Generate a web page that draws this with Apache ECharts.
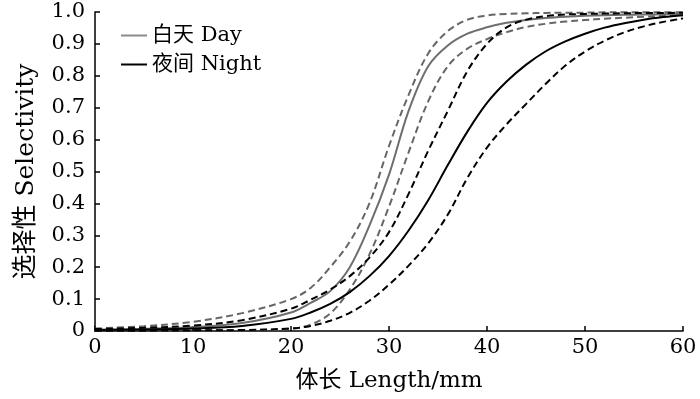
<!DOCTYPE html>
<html>
<head>
<meta charset="utf-8">
<script src="https://cdn.jsdelivr.net/npm/echarts@6/dist/echarts.min.js"></script>
<style>
  html, body { margin: 0; padding: 0; background: #fff; }
  #chart { width: 700px; height: 399px; }
</style>
</head>
<body>
<div id="chart"></div>
<script>
// 体长 (mm)
var lengths = [0, 5, 10, 15, 20, 22, 24, 26, 28, 30, 32, 34, 36, 38, 40, 42, 44, 46, 48, 50, 52, 54, 56, 58, 60];

// 白天 选择性曲线及上下置信限
var daySel = [0.004, 0.007, 0.012, 0.025, 0.058, 0.088, 0.125, 0.2, 0.33, 0.49, 0.69, 0.83, 0.895, 0.932, 0.952, 0.966, 0.975, 0.981, 0.985, 0.988, 0.99, 0.991, 0.992, 0.993, 0.994];
var dayHi  = [0.008, 0.015, 0.029, 0.056, 0.1, 0.135, 0.2, 0.28, 0.4, 0.58, 0.74, 0.87, 0.94, 0.976, 0.989, 0.994, 0.996, 0.997, 0.998, 0.998, 0.999, 0.999, 0.999, 0.999, 0.999];
var dayLo  = [0.0005, 0.001, 0.002, 0.003, 0.007, 0.02, 0.055, 0.13, 0.24, 0.39, 0.56, 0.72, 0.83, 0.885, 0.915, 0.937, 0.953, 0.963, 0.97, 0.975, 0.979, 0.982, 0.985, 0.988, 0.99];

// 夜间 选择性曲线及上下置信限
var nightSel = [0.003, 0.005, 0.008, 0.016, 0.038, 0.058, 0.085, 0.122, 0.172, 0.235, 0.315, 0.41, 0.52, 0.625, 0.715, 0.782, 0.835, 0.877, 0.908, 0.932, 0.951, 0.965, 0.976, 0.984, 0.99];
var nightHi  = [0.006, 0.01, 0.017, 0.034, 0.07, 0.098, 0.13, 0.172, 0.23, 0.31, 0.43, 0.565, 0.69, 0.815, 0.9, 0.952, 0.976, 0.987, 0.992, 0.994, 0.995, 0.996, 0.997, 0.997, 0.998];
var nightLo  = [0.0005, 0.001, 0.002, 0.003, 0.008, 0.016, 0.032, 0.057, 0.095, 0.145, 0.205, 0.275, 0.365, 0.48, 0.575, 0.648, 0.712, 0.775, 0.832, 0.876, 0.91, 0.936, 0.955, 0.969, 0.98];

var FONT = "'DejaVu Serif', 'Noto Sans CJK SC', serif";

function pairs(vals) {
  return lengths.map(function (x, i) { return [x, vals[i]]; });
}

function curve(name, vals, color, dashed) {
  return {
    name: name,
    type: 'line',
    data: pairs(vals),
    smooth: 0.35,
    symbol: 'none',
    silent: true,
    lineStyle: {
      color: color,
      width: 2,
      type: dashed ? [7, 4] : 'solid'
    },
    itemStyle: { color: color }
  };
}

var chart = echarts.init(document.getElementById('chart'));

var option = {
  animation: false,
  grid: { left: 95, right: 17, top: 12, bottom: 68 },
  legend: {
    data: [
      { name: '白天 Day', icon: 'rect', itemStyle: { color: '#8a8a8a' } },
      { name: '夜间 Night', icon: 'rect', itemStyle: { color: '#000' } }
    ],
    orient: 'vertical',
    left: 116,
    top: 20,
    itemWidth: 26,
    itemHeight: 2,
    itemGap: 8,
    textStyle: { fontFamily: FONT, fontSize: 21, color: '#000', lineHeight: 20 }
  },
  xAxis: {
    type: 'value',
    min: 0,
    max: 60,
    interval: 10,
    name: '体长 Length/mm',
    nameLocation: 'middle',
    nameGap: 39,
    nameTextStyle: { fontFamily: FONT, fontSize: 23, color: '#000' },
    axisLine: { lineStyle: { color: '#000', width: 1.5 } },
    axisTick: { inside: true, length: 5, lineStyle: { color: '#000', width: 1.5 } },
    axisLabel: { fontFamily: FONT, fontSize: 21, color: '#000', margin: 6 },
    splitLine: { show: false }
  },
  yAxis: {
    type: 'value',
    min: 0,
    max: 1,
    interval: 0.1,
    name: '选择性 Selectivity',
    nameLocation: 'middle',
    nameGap: 56,
    nameTextStyle: { fontFamily: FONT, fontSize: 25, color: '#000' },
    axisLine: { show: true, lineStyle: { color: '#000', width: 1.5 } },
    axisTick: { show: true, inside: true, length: 5, lineStyle: { color: '#000', width: 1.5 } },
    axisLabel: {
      fontFamily: FONT, fontSize: 21, color: '#000', margin: 10,
      formatter: function (v) { return v === 0 ? '0' : v.toFixed(1); }
    },
    splitLine: { show: false }
  },
  series: [
    curve('白天 Day 上限', dayHi, '#666666', true),
    curve('白天 Day 下限', dayLo, '#666666', true),
    curve('白天 Day', daySel, '#6e6e6e', false),
    curve('夜间 Night 上限', nightHi, '#000000', true),
    curve('夜间 Night 下限', nightLo, '#000000', true),
    curve('夜间 Night', nightSel, '#000000', false)
  ]
};

chart.setOption(option);
</script>
</body>
</html>
